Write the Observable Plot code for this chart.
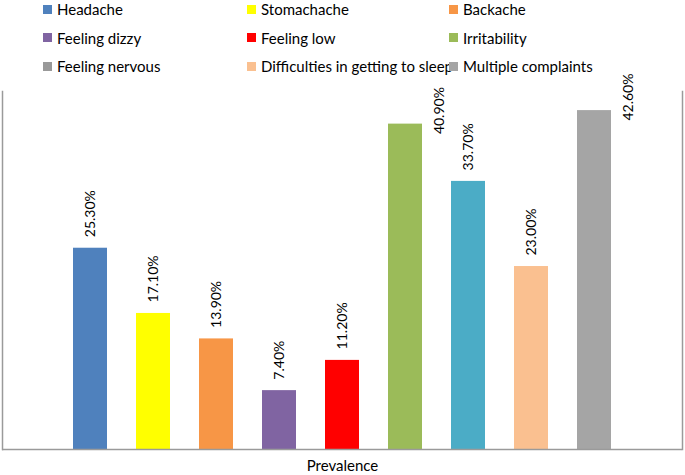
<!DOCTYPE html>
<html>
<head>
<meta charset="utf-8">
<script src="https://cdn.jsdelivr.net/npm/d3@7"></script>
<script src="https://cdn.jsdelivr.net/npm/@observablehq/plot@0.6"></script>
<style>
  html, body { margin: 0; padding: 0; background: #fff; }
  body { width: 685px; height: 475px; overflow: hidden; font-family: Lato, "Open Sans", sans-serif; }
  #legend { position: relative; height: 60px; }
  #legend .grid { position: absolute; left: 43px; top: -5px; display: grid;
    grid-template-columns: 204px 202px 220px; grid-auto-rows: 28.5px; }
  #legend .item { display: flex; align-items: center; font-size: 15px; color: #000; white-space: nowrap; }
  #legend .sw { width: 9px; height: 9px; margin-right: 5px; flex: none; }
  #chart svg { display: block; background: transparent; }
</style>
</head>
<body>
<div id="legend"><div class="grid"></div></div>
<div id="chart"></div>
<script>
const categories = ["Headache", "Stomachache", "Backache", "Feeling dizzy", "Feeling low",
  "Irritability", "Feeling nervous", "Difficulties in getting to sleep", "Multiple complaints"];
const values = [25.3, 17.1, 13.9, 7.4, 11.2, 40.9, 33.7, 23.0, 42.6];
const barColors = ["#4F81BD", "#FFFF00", "#F79646", "#8064A2", "#FF0000",
  "#9BBB59", "#4BACC6", "#FAC090", "#A5A5A5"];
const legendColors = ["#4F81BD", "#FFFF00", "#F79646", "#8064A2", "#FF0000",
  "#9BBB59", "#999999", "#FAC090", "#A5A5A5"];
const axisLabel = "Prevalence";

const data = categories.map((name, i) => ({name, value: values[i]}));

// legend
const grid = document.querySelector("#legend .grid");
categories.forEach((name, i) => {
  const item = document.createElement("div");
  item.className = "item";
  const sw = document.createElement("span");
  sw.className = "sw";
  sw.style.background = legendColors[i];
  item.appendChild(sw);
  item.appendChild(document.createTextNode(name));
  grid.appendChild(item);
});

const fmt = v => v.toFixed(2) + "%";
const tall = d => d.value > 40;

const chart = Plot.plot({
  width: 685,
  height: 415,
  marginLeft: 2,
  marginRight: 3,
  marginTop: 31,
  marginBottom: 26,
  style: {fontFamily: "Lato, 'Open Sans', sans-serif", fontSize: "14px", color: "#000", background: "transparent"},
  x: {domain: categories, paddingInner: 0.46, paddingOuter: 1.125, axis: null},
  y: {domain: [0, 45], axis: null},
  color: {domain: categories, range: barColors},
  marks: [
    Plot.frame({anchor: "left", stroke: "#9a9a9a", strokeWidth: 1.5}),
    Plot.frame({anchor: "right", stroke: "#9a9a9a", strokeWidth: 1.5}),
    Plot.barY(data, {x: "name", y: "value", fill: "name"}),
    Plot.ruleY([0], {stroke: "#9a9a9a", strokeWidth: 1.5}),
    Plot.text(data.filter(d => !tall(d)), {
      x: "name", y: "value", text: d => fmt(d.value),
      rotate: -90, textAnchor: "start", lineAnchor: "middle", dy: -11, fill: "#000", fontSize: 14
    }),
    Plot.text(data.filter(tall), {
      x: "name", y: "value", text: d => fmt(d.value),
      rotate: -90, textAnchor: "start", lineAnchor: "middle", dx: 34, dy: 10, fill: "#000", fontSize: 14
    }),
    Plot.text([axisLabel], {
      frameAnchor: "bottom", text: d => d, dy: 17, lineAnchor: "middle", textAnchor: "middle",
      fill: "#000", fontSize: 15
    })
  ]
});
document.getElementById("chart").appendChild(chart);
</script>
</body>
</html>
